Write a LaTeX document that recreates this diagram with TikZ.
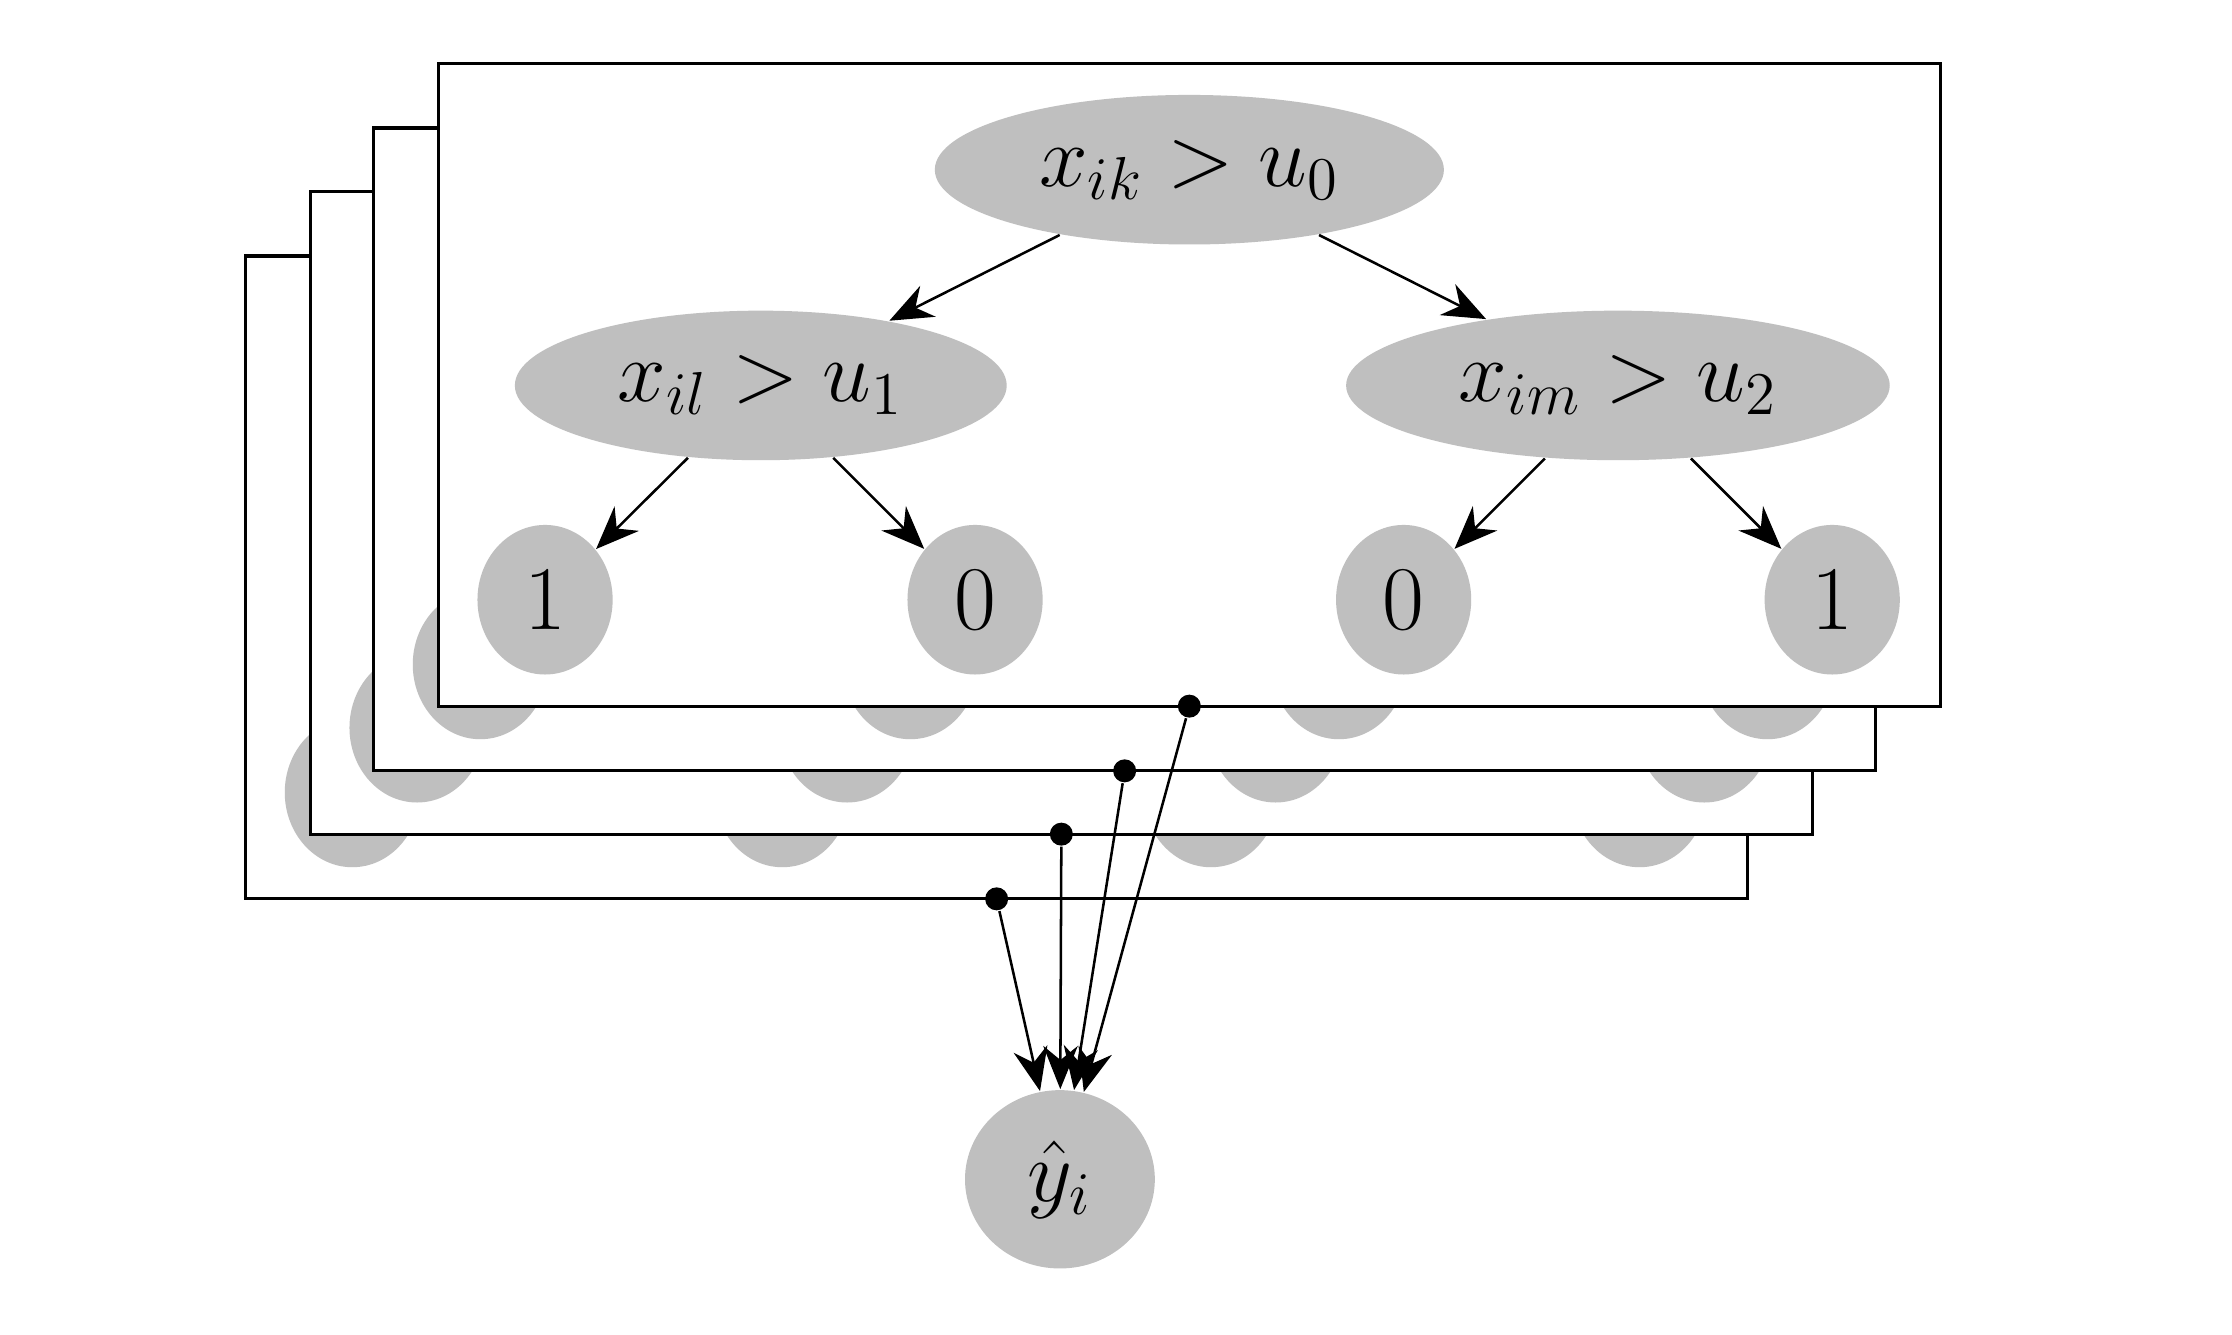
\documentclass[tikz,border=0pt]{standalone}
\usetikzlibrary{shapes.geometric,arrows.meta}
\begin{document}
\begin{tikzpicture}[x=0.1mm,y=-0.1mm,
  nd/.style={ellipse,fill=black!25,inner sep=0pt,font=\fontsize{18}{22}\selectfont},
  frame/.style={draw,fill=white,line width=0.6pt},
  arr/.style={-{Stealth[length=3mm,width=2.4mm]},line width=0.5pt},
  dot/.style={circle,fill=black,inner sep=0pt,minimum size=1.6mm}]
\useasboundingbox (0,0) rectangle (1552,928);
\newcommand\drawtree[3]{%
 \begin{scope}[shift={(#1,-#1)},name prefix=#2]
  \draw[frame] (305,44) rectangle (1349,491);
  \ifnum#3=1
  \node[nd,minimum width=35.4mm,minimum height=10.4mm] (r) at (827,118) {$x_{ik}>u_0$};
  \node[nd,minimum width=34.2mm,minimum height=10.4mm] (a) at (529,268) {$x_{il}>u_1$};
  \node[nd,minimum width=37.8mm,minimum height=10.4mm] (b) at (1125,268) {$x_{im}>u_2$};
  \node[nd,minimum width=9.4mm,minimum height=10.4mm] (l1) at (379,417) {1};
  \node[nd,minimum width=9.4mm,minimum height=10.4mm] (l2) at (678,417) {0};
  \node[nd,minimum width=9.4mm,minimum height=10.4mm] (l3) at (976,417) {0};
  \node[nd,minimum width=9.4mm,minimum height=10.4mm] (l4) at (1274,417) {1};
  \draw[arr] (r) -- (a); \draw[arr] (r) -- (b);
  \draw[arr] (a) -- (l1); \draw[arr] (a) -- (l2);
  \draw[arr] (b) -- (l3); \draw[arr] (b) -- (l4);
  \else
  \foreach \x in {379,678,976,1274}
    \fill[black!25] (\x,417) ellipse [x radius=47, y radius=52];
  \fi
  \node[dot] (d) at (827,491) {};
 \end{scope}}
\drawtree{-134}{t4}{0}
\drawtree{-89}{t3}{0}
\drawtree{-45}{t2}{0}
\drawtree{0}{t1}{1}
\node[nd,minimum width=13.2mm,minimum height=12.4mm] (yh) at (737,820) {$\hat{y}_i$};
\draw[arr] (t4d) -- (yh);
\draw[arr] (t3d) -- (yh);
\draw[arr] (t2d) -- (yh);
\draw[arr] (t1d) -- (yh);
\end{tikzpicture}
\end{document}
